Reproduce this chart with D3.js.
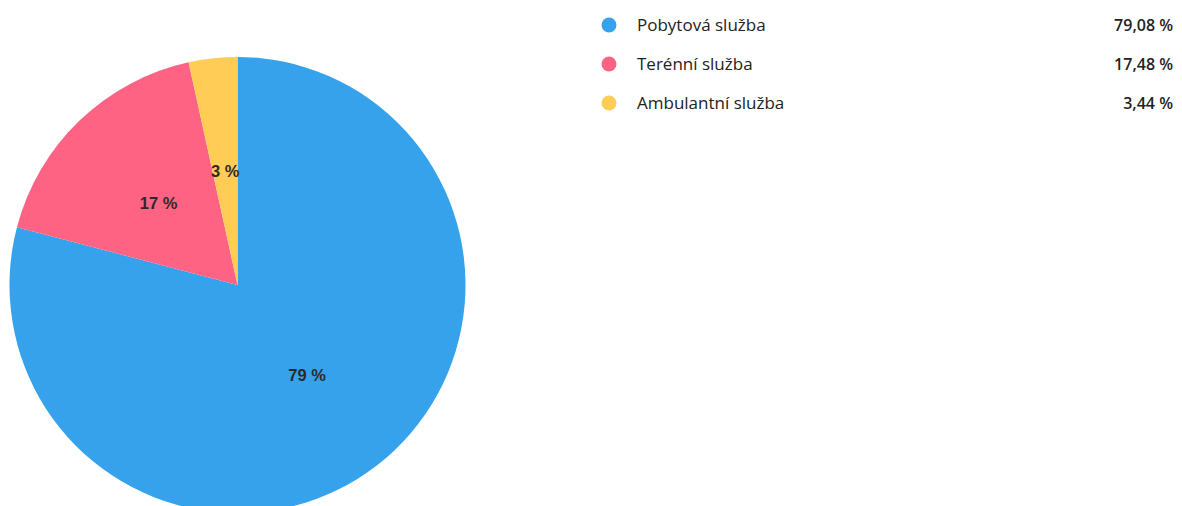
<!DOCTYPE html>
<html><head><meta charset="utf-8">
<script src="https://cdn.jsdelivr.net/npm/d3@7"></script>
<style>body{margin:0;background:#fff;}svg{display:block;}</style>
</head><body>
<svg id="c" width="1182" height="506"></svg>
<script>
const categories = ["Pobytová služba", "Terénní služba", "Ambulantní služba"];
const values = [79.08, 17.48, 3.44];
const valueLabels = ["79,08 %", "17,48 %", "3,44 %"];
const colors = ["#36A2EB", "#FF6384", "#FFCD56"];

const svg = d3.select("#c");
const cx = 237.5, cy = 285, r = 228;
const pie = d3.pie().sort(null).value(d => d)(values);
const arc = d3.arc().innerRadius(0).outerRadius(r);
const g = svg.append("g").attr("transform", `translate(${cx},${cy})`);
g.selectAll("path").data(pie).join("path")
  .attr("d", arc).attr("fill", (d,i) => colors[i]);
g.selectAll("text").data(pie).join("text")
  .attr("transform", d => { const a=(d.startAngle+d.endAngle)/2; return `translate(${Math.sin(a)*r/2},${-Math.cos(a)*r/2})`; })
  .attr("text-anchor", "middle").attr("dy", "0.35em")
  .attr("font-family", "Liberation Sans, Arial, sans-serif")
  .attr("font-weight", "bold").attr("font-size", 16.5).attr("fill", "#2a2a2a")
  .text(d => Math.round(d.data) + " %");

const y = d3.scalePoint().domain(categories).range([25, 103]);
const leg = svg.append("g");
categories.forEach((c, i) => {
  leg.append("circle").attr("cx", 609).attr("cy", y(c)).attr("r", 7.5).attr("fill", colors[i]);
  leg.append("text").attr("x", 637).attr("y", y(c)).attr("dy", "0.35em")
    .attr("font-family", "Open Sans, sans-serif").attr("font-size", 17).attr("fill", "#222").text(c);
  leg.append("text").attr("x", 1173).attr("y", y(c)).attr("dy", "0.35em").attr("text-anchor", "end")
    .attr("font-family", "Open Sans, sans-serif").attr("font-weight", 600).attr("font-size", 16).attr("fill", "#222").text(valueLabels[i]);
});
</script>
</body></html>
